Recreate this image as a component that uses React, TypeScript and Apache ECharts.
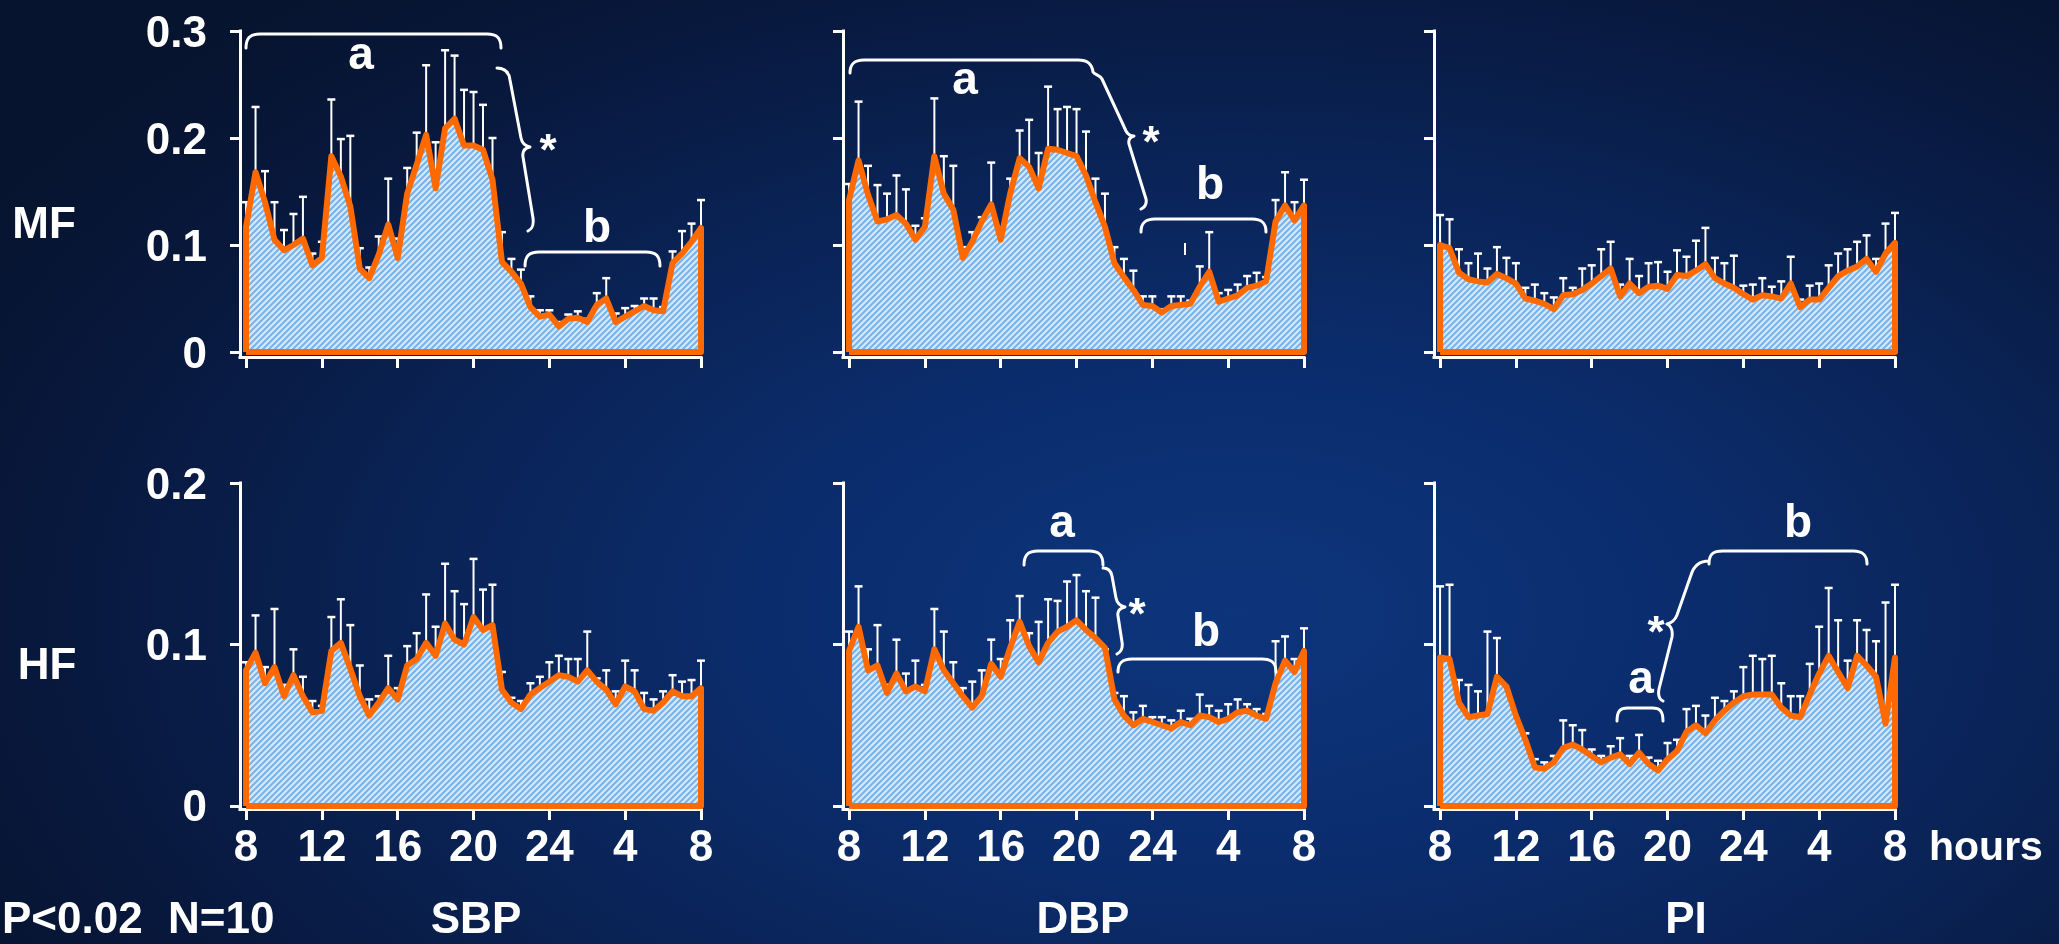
import React, { useEffect, useRef } from "react";
import * as echarts from "echarts";

// ---------- data ----------
const HOURS = [0, 0.5, 1, 1.5, 2, 2.5, 3, 3.5, 4, 4.5, 5, 5.5, 6, 6.5, 7, 7.5, 8, 8.5, 9, 9.5, 10, 10.5, 11, 11.5, 12, 12.5, 13, 13.5, 14, 14.5, 15, 15.5, 16, 16.5, 17, 17.5, 18, 18.5, 19, 19.5, 20, 20.5, 21, 21.5, 22, 22.5, 23, 23.5, 24];
const X_TICK_VALUES = [0, 4, 8, 12, 16, 20, 24];
const X_TICK_LABELS = ["8", "12", "16", "20", "24", "4", "8"];
const Y_TICKS_MF = [0, 0.1, 0.2, 0.3];
const Y_LABELS_MF = ["0", "0.1", "0.2", "0.3"];
const Y_TICKS_HF = [0, 0.1, 0.2];
const Y_LABELS_HF = ["0", "0.1", "0.2"];
const ROW_LABELS = ["MF", "HF"];
const COL_LABELS = ["SBP", "DBP", "PI"];

const MF_SBP = [0.117, 0.168, 0.140, 0.105, 0.095, 0.100, 0.106, 0.081, 0.088, 0.183, 0.164, 0.136, 0.078, 0.069, 0.091, 0.119, 0.088, 0.148, 0.175, 0.203, 0.153, 0.209, 0.218, 0.193, 0.193, 0.189, 0.161, 0.084, 0.075, 0.064, 0.042, 0.033, 0.035, 0.024, 0.031, 0.032, 0.028, 0.044, 0.050, 0.028, 0.033, 0.038, 0.043, 0.039, 0.038, 0.083, 0.092, 0.103, 0.116];
const MF_SBP_ERR = [0.140, 0.229, 0.169, 0.140, 0.114, 0.129, 0.145, 0.092, 0.103, 0.236, 0.199, 0.202, 0.097, 0.079, 0.108, 0.162, 0.106, 0.172, 0.205, 0.268, 0.196, 0.282, 0.277, 0.245, 0.243, 0.231, 0.200, 0.112, 0.087, 0.077, 0.052, 0.039, 0.039, 0.028, 0.035, 0.038, 0.031, 0.055, 0.069, 0.036, 0.041, 0.043, 0.050, 0.050, 0.042, 0.094, 0.113, 0.120, 0.142];

const MF_DBP = [0.142, 0.179, 0.147, 0.122, 0.124, 0.128, 0.120, 0.105, 0.117, 0.183, 0.148, 0.133, 0.088, 0.103, 0.122, 0.138, 0.105, 0.148, 0.181, 0.173, 0.153, 0.190, 0.189, 0.186, 0.183, 0.165, 0.140, 0.117, 0.083, 0.070, 0.058, 0.044, 0.043, 0.037, 0.043, 0.044, 0.045, 0.061, 0.075, 0.047, 0.050, 0.053, 0.060, 0.062, 0.066, 0.122, 0.137, 0.123, 0.137];
const MF_DBP_ERR = [0.157, 0.234, 0.174, 0.156, 0.148, 0.165, 0.152, 0.118, 0.125, 0.237, 0.183, 0.174, 0.098, 0.112, 0.126, 0.177, 0.110, 0.162, 0.207, 0.217, 0.186, 0.248, 0.227, 0.229, 0.227, 0.206, 0.162, 0.148, 0.098, 0.087, 0.076, 0.052, 0.052, 0.040, 0.052, 0.052, 0.048, 0.080, 0.112, 0.055, 0.058, 0.063, 0.071, 0.074, 0.070, 0.142, 0.168, 0.140, 0.161];

const MF_PI = [0.100, 0.097, 0.074, 0.068, 0.066, 0.065, 0.073, 0.069, 0.064, 0.050, 0.048, 0.045, 0.040, 0.053, 0.054, 0.058, 0.064, 0.071, 0.078, 0.052, 0.064, 0.055, 0.061, 0.062, 0.059, 0.072, 0.071, 0.076, 0.082, 0.069, 0.064, 0.060, 0.054, 0.049, 0.053, 0.052, 0.050, 0.064, 0.042, 0.049, 0.049, 0.060, 0.071, 0.076, 0.080, 0.087, 0.075, 0.092, 0.102];
const MF_PI_ERR = [0.128, 0.124, 0.096, 0.083, 0.092, 0.078, 0.098, 0.088, 0.083, 0.060, 0.063, 0.055, 0.051, 0.069, 0.060, 0.078, 0.081, 0.096, 0.103, 0.063, 0.087, 0.071, 0.083, 0.084, 0.075, 0.095, 0.089, 0.104, 0.116, 0.088, 0.083, 0.090, 0.062, 0.063, 0.069, 0.061, 0.066, 0.089, 0.049, 0.062, 0.064, 0.081, 0.092, 0.096, 0.103, 0.109, 0.087, 0.120, 0.130];

const HF_SBP = [0.084, 0.095, 0.076, 0.086, 0.068, 0.081, 0.068, 0.058, 0.059, 0.096, 0.101, 0.085, 0.068, 0.056, 0.064, 0.073, 0.066, 0.087, 0.091, 0.101, 0.093, 0.113, 0.103, 0.100, 0.117, 0.109, 0.112, 0.072, 0.064, 0.060, 0.069, 0.073, 0.077, 0.081, 0.080, 0.077, 0.084, 0.077, 0.072, 0.063, 0.074, 0.071, 0.060, 0.059, 0.064, 0.071, 0.068, 0.068, 0.073];
const HF_SBP_ERR = [0.089, 0.118, 0.086, 0.122, 0.075, 0.097, 0.080, 0.065, 0.062, 0.117, 0.128, 0.112, 0.087, 0.066, 0.068, 0.093, 0.073, 0.099, 0.107, 0.131, 0.111, 0.150, 0.133, 0.125, 0.153, 0.134, 0.137, 0.083, 0.067, 0.065, 0.076, 0.080, 0.089, 0.093, 0.091, 0.091, 0.108, 0.079, 0.084, 0.071, 0.090, 0.084, 0.070, 0.066, 0.071, 0.081, 0.077, 0.078, 0.090];

const HF_DBP = [0.096, 0.111, 0.084, 0.087, 0.070, 0.082, 0.071, 0.074, 0.071, 0.097, 0.084, 0.076, 0.068, 0.061, 0.068, 0.088, 0.080, 0.098, 0.114, 0.099, 0.089, 0.101, 0.108, 0.111, 0.115, 0.109, 0.104, 0.098, 0.066, 0.056, 0.050, 0.054, 0.052, 0.050, 0.048, 0.052, 0.050, 0.056, 0.055, 0.052, 0.054, 0.058, 0.059, 0.056, 0.054, 0.076, 0.090, 0.083, 0.096];
const HF_DBP_ERR = [0.108, 0.136, 0.097, 0.112, 0.075, 0.103, 0.082, 0.090, 0.075, 0.122, 0.108, 0.089, 0.073, 0.077, 0.084, 0.103, 0.091, 0.115, 0.130, 0.107, 0.114, 0.128, 0.127, 0.139, 0.143, 0.133, 0.129, 0.097, 0.070, 0.068, 0.058, 0.062, 0.055, 0.055, 0.053, 0.059, 0.054, 0.069, 0.062, 0.059, 0.063, 0.066, 0.063, 0.060, 0.057, 0.102, 0.105, 0.091, 0.110];

const HF_PI = [0.092, 0.091, 0.064, 0.055, 0.056, 0.057, 0.080, 0.074, 0.056, 0.041, 0.024, 0.023, 0.027, 0.036, 0.038, 0.035, 0.031, 0.027, 0.030, 0.032, 0.026, 0.033, 0.026, 0.022, 0.029, 0.034, 0.046, 0.050, 0.045, 0.053, 0.059, 0.064, 0.068, 0.069, 0.069, 0.069, 0.061, 0.056, 0.055, 0.069, 0.082, 0.093, 0.083, 0.073, 0.093, 0.087, 0.080, 0.051, 0.092];
const HF_PI_ERR = [0.136, 0.137, 0.078, 0.075, 0.071, 0.108, 0.104, 0.071, 0.054, 0.045, 0.029, 0.027, 0.031, 0.053, 0.050, 0.047, 0.035, 0.031, 0.037, 0.042, 0.031, 0.044, 0.030, 0.028, 0.039, 0.041, 0.060, 0.062, 0.056, 0.067, 0.065, 0.071, 0.086, 0.093, 0.091, 0.093, 0.076, 0.068, 0.068, 0.088, 0.111, 0.135, 0.115, 0.090, 0.115, 0.109, 0.102, 0.126, 0.137];

// ---------- layout / style ----------
const FONT = '"Liberation Sans", Arial, Helvetica, sans-serif';
const WHITE = "#ffffff";
const ORANGE = "#ff6a00";
const COL_LEFT = [240, 843, 1434];
const ROW_TOP = [31, 483];
const GRID_W = 461;
const GRID_H = 326;
const X_MIN = -0.32;
const Y_MIN = [-0.00467, -0.00186];
const Y_MAX = [0.3, 0.2];

const BRACES: Record<string, string> = {
  br1: "M246,48 C246,38 250,34 260,34 L487,34 C497,34 501,38 501,48 M497,68 C505,68 509,72 510,80 L521,138 C522,143 525,146 530,147 C525,148 522,151 523,157 L533,218 C534,226 532,229 528,231 M525,266 C525,256 529,252 539,252 L646,252 C656,252 660,256 660,266",
  br2: "M850,73 C850,64 854,60 864,60 L1078,60 C1088,60 1092,64 1093,72 C1095,75 1100,75 1102,79 L1126,131 C1128,135 1130,136 1134,136 C1130,137 1128,139 1129,144 L1146,199 C1147,204 1145,207 1141,209 M1141,232 C1141,223 1145,219 1155,219 L1252,219 C1262,219 1266,223 1266,232",
  br5: "M1024,565 C1024,555 1028,551 1038,551 L1089,551 C1099,551 1103,555 1103,565 M1103,568 C1108,568 1111,571 1112,576 L1116,598 C1117,603 1120,606 1125,607 C1120,608 1117,611 1118,616 L1122,642 C1123,648 1121,652 1117,654 M1118,672 C1118,663 1122,659 1132,659 L1262,659 C1272,659 1276,663 1276,672",
  br6: "M1617,721 C1617,711 1620,708 1628,708 L1652,708 C1660,708 1663,711 1663,721 M1663,701 C1659,699 1658,694 1659,689 L1672,637 C1673,630 1671,626 1667,624 C1672,623 1675,620 1677,615 L1691,575 C1694,565 1700,561 1709,561 M1709,564 C1709,554 1713,551 1723,551 L1853,551 C1863,551 1867,555 1867,564",
};

let registered = false;
function registerBraces() {
  if (registered) return;
  Object.keys(BRACES).forEach((k) => {
    echarts.graphic.registerShape(k, echarts.graphic.extendPath(BRACES[k], {}));
  });
  registered = true;
}

function makeHatch(): HTMLCanvasElement {
  const c = document.createElement("canvas");
  c.width = 6;
  c.height = 6;
  const ctx = c.getContext("2d")!;
  ctx.fillStyle = "#d4e9fc";
  ctx.fillRect(0, 0, 6, 6);
  ctx.strokeStyle = "#76b3ec";
  ctx.lineWidth = 2;
  ctx.beginPath();
  ctx.moveTo(-1, 7);
  ctx.lineTo(7, -1);
  ctx.moveTo(-1, 1);
  ctx.lineTo(1, -1);
  ctx.moveTo(5, 7);
  ctx.lineTo(7, 5);
  ctx.stroke();
  return c;
}

function labelOf(ticks: number[], labels: string[], v: number) {
  const i = ticks.findIndex((t) => Math.abs(t - v) < 1e-6);
  return i >= 0 ? labels[i] : "";
}

function buildOption() {
  const hatch = makeHatch();
  const pattern: any = { image: hatch, repeat: "repeat", imageWidth: 6, imageHeight: 6 };
  const panels = [
    { row: 0, col: 0, vals: MF_SBP, errs: MF_SBP_ERR },
    { row: 0, col: 1, vals: MF_DBP, errs: MF_DBP_ERR },
    { row: 0, col: 2, vals: MF_PI, errs: MF_PI_ERR },
    { row: 1, col: 0, vals: HF_SBP, errs: HF_SBP_ERR },
    { row: 1, col: 1, vals: HF_DBP, errs: HF_DBP_ERR },
    { row: 1, col: 2, vals: HF_PI, errs: HF_PI_ERR },
  ];
  const axisLineStyle = { color: WHITE, width: 3, cap: "square" };
  const grid = panels.map((p) => ({
    left: COL_LEFT[p.col], top: ROW_TOP[p.row], width: GRID_W, height: GRID_H, containLabel: false,
  }));
  const xAxis = panels.map((p, i) => ({
    gridIndex: i, type: "value", min: X_MIN, max: 24,
    axisLine: { show: true, onZero: false, lineStyle: axisLineStyle },
    axisTick: { show: true, length: 11, customValues: X_TICK_VALUES, lineStyle: { color: WHITE, width: 3 } },
    axisLabel: {
      show: p.row === 1, customValues: X_TICK_VALUES,
      formatter: (v: number) => labelOf(X_TICK_VALUES, X_TICK_LABELS, v),
      color: WHITE, fontSize: 44, fontWeight: "bold", fontFamily: FONT, margin: 14,
    },
    splitLine: { show: false },
  }));
  const yAxis = panels.map((p, i) => {
    const ticks = p.row === 0 ? Y_TICKS_MF : Y_TICKS_HF;
    const labels = p.row === 0 ? Y_LABELS_MF : Y_LABELS_HF;
    return {
      gridIndex: i, type: "value", min: Y_MIN[p.row], max: Y_MAX[p.row],
      axisLine: { show: true, onZero: false, lineStyle: axisLineStyle },
      axisTick: { show: true, length: 10, customValues: ticks, lineStyle: { color: WHITE, width: 3 } },
      axisLabel: {
        show: p.col === 0, customValues: ticks,
        formatter: (v: number) => labelOf(ticks, labels, v),
        color: WHITE, fontSize: 44, fontWeight: "bold", fontFamily: FONT, margin: 33,
      },
      splitLine: { show: false },
    };
  });
  const series: any[] = [];
  panels.forEach((p, i) => {
    series.push({
      type: "custom", xAxisIndex: i, yAxisIndex: i, coordinateSystem: "cartesian2d",
      silent: true, z: 2, clip: false,
      encode: { x: 0, y: [1, 2] },
      data: HOURS.map((h, k) => [h, p.vals[k], p.errs[k]]),
      renderItem: (_params: any, api: any) => {
        const x = api.value(0);
        const p0 = api.coord([x, api.value(1)]);
        const p1 = api.coord([x, api.value(2)]);
        return {
          type: "group",
          children: [
            { type: "line", shape: { x1: p0[0], y1: p0[1], x2: p1[0], y2: p1[1] }, style: { stroke: WHITE, lineWidth: 2 } },
            { type: "line", shape: { x1: p1[0] - 4, y1: p1[1], x2: p1[0] + 4, y2: p1[1] }, style: { stroke: WHITE, lineWidth: 2.5 } },
          ],
        };
      },
    });
    series.push({
      type: "line", xAxisIndex: i, yAxisIndex: i, silent: true, z: 3, clip: false,
      showSymbol: false, symbol: "none", smooth: false,
      data: [[0, 0], ...HOURS.map((h, k) => [h, p.vals[k]]), [24, 0], [0, 0]],
      lineStyle: { color: ORANGE, width: 6, join: "round" },
      areaStyle: { color: pattern, opacity: 1 },
    });
  });

  const txt = (text: string, x: number, y: number, size: number, align = "center") => ({
    type: "text", x, y, z: 20, silent: true,
    style: {
      text, fill: WHITE, fontSize: size, fontWeight: "bold", fontFamily: FONT,
      lineHeight: size, textAlign: align, textVerticalAlign: "middle",
    },
  });
  const brace = (name: string) => ({
    type: name, z: 20, silent: true,
    style: { stroke: WHITE, lineWidth: 3, fill: "none", lineCap: "round", lineJoin: "round" },
  });

  const graphic: any[] = [
    txt(ROW_LABELS[0], 44, 222, 44),
    txt(ROW_LABELS[1], 47, 663, 44),
    txt("P<0.02", 2, 917, 44, "left"),
    txt("N=10", 168, 917, 44, "left"),
    txt(COL_LABELS[0], 476, 917, 44),
    txt(COL_LABELS[1], 1083, 917, 44),
    txt(COL_LABELS[2], 1686, 917, 44),
    txt("hours", 1929, 846, 41, "left"),
    brace("br1"), brace("br2"), brace("br5"), brace("br6"),
    txt("a", 361, 53, 46), txt("*", 548, 149, 44), txt("b", 597, 226, 46),
    txt("a", 965, 78, 46), txt("*", 1151, 141, 44), txt("b", 1210, 183, 46),
    txt("a", 1062, 521, 46), txt("*", 1137, 613, 44), txt("b", 1206, 630, 46),
    txt("a", 1641, 677, 46), txt("*", 1656, 631, 44), txt("b", 1798, 521, 46),
    { type: "line", z: 20, silent: true, shape: { x1: 1185, y1: 243, x2: 1185, y2: 255 }, style: { stroke: WHITE, lineWidth: 2 } },
  ];

  return {
    animation: false,
    backgroundColor: "transparent",
    grid, xAxis, yAxis, series, graphic,
  };
}

export default function App() {
  const ref = useRef<HTMLDivElement>(null);
  useEffect(() => {
    if (!ref.current) return;
    registerBraces();
    const chart = echarts.init(ref.current, null, { renderer: "svg" });
    chart.setOption(buildOption() as any);
    return () => chart.dispose();
  }, []);
  return (
    <div
      style={{
        position: "fixed", left: 0, top: 0, width: 2059, height: 944, overflow: "hidden",
        background:
          "radial-gradient(ellipse 70% 85% at 60% 65%, #0d357c 0%, #0b2d6e 30%, #0a2458 55%, #08193f 80%, #07142f 100%)",
      }}
    >
      <div ref={ref} style={{ width: 2059, height: 944 }} />
    </div>
  );
}
